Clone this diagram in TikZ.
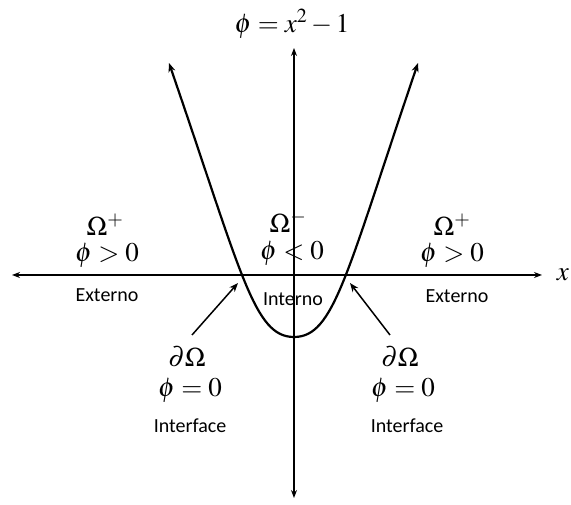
\documentclass[tikz,border=0pt]{standalone}
\usepackage{amsmath}
\usepackage[no-math]{fontspec}
\usepackage{mathptmx}
\newfontfamily\labelfont{Carlito}
\usetikzlibrary{arrows.meta, positioning, calc}

\begin{document}
\begin{tikzpicture}[
    x=1pt, y=1pt,
    axis/.style={{Stealth[length=8pt, width=6pt]}-{Stealth[length=8pt, width=6pt]}, line width=1.2pt},
    curve/.style={{Stealth[length=9pt, width=7pt]}-{Stealth[length=9pt, width=7pt]}, line width=2.2pt},
    pointer/.style={-{Stealth[length=9pt, width=7pt]}, line width=1.5pt},
    region/.style={inner sep=0pt, font=\fontsize{27}{30}\selectfont},
    tag/.style={inner sep=0pt, font=\labelfont\fontsize{20}{24}\selectfont}
  ]
    \useasboundingbox (-294,-230) rectangle (277,275);

    % axes
    \coordinate (west) at (-282,0);
    \coordinate (east) at (248,0);
    \coordinate (north) at (0,227);
    \coordinate (south) at (0,-223);
    \draw[axis] (west) -- (east);
    \draw[axis] (south) -- (north);
    \node[region] (xlab) at (269,0) {$x$};
    \node[region] (title) at (-2,251) {$\phi = x^{2} - 1$};

    % level set curve
    \coordinate (tipL) at (-125,212);
    \coordinate (tipR) at (124,212);
    \coordinate (rootL) at (-52,0);
    \coordinate (rootR) at (52,0);
    \coordinate (vertex) at (0,-62);
    \draw[curve] (tipL) .. controls (rootL) and (-40,-62) .. (vertex)
                        .. controls (40,-62) and (rootR) .. (tipR);

    % regions
    \node[region] (omL) at (-189,50) {$\Omega^{+}$};
    \node[region] (phiL) at (-187,20) {$\phi > 0$};
    \node[tag] (extL) at (-187,-20) {Externo};

    \node[region] (omM) at (-6,53) {$\Omega^{-}$};
    \node[region] (phiM) at (-2,22) {$\phi < 0$};
    \node[tag] (intM) at (-1,-24) {Interno};

    \node[region] (omR) at (158,50) {$\Omega^{+}$};
    \node[region] (phiR) at (158,20) {$\phi > 0$};
    \node[tag] (extR) at (163,-21) {Externo};

    % interface
    \node[region] (dOmL) at (-107,-82) {$\partial\Omega$};
    \node[region] (zeroL) at (-104,-115) {$\phi = 0$};
    \node[tag] (ifL) at (-104,-151) {Interface};

    \node[region] (dOmR) at (106,-82) {$\partial\Omega$};
    \node[region] (zeroR) at (109,-115) {$\phi = 0$};
    \node[tag] (ifR) at (113,-151) {Interface};

    \coordinate (tailL) at (-102,-60);
    \coordinate (hitL) at (-56,-8);
    \coordinate (tailR) at (96,-60);
    \coordinate (hitR) at (56,-8);
    \draw[pointer] (tailL) -- (hitL);
    \draw[pointer] (tailR) -- (hitR);
  \end{tikzpicture}
\end{document}
